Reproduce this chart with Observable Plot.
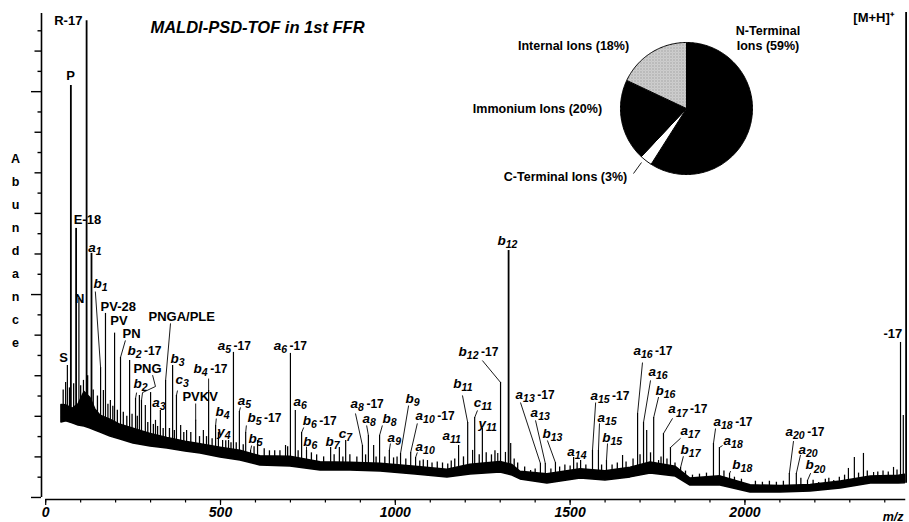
<!DOCTYPE html>
<html><head><meta charset="utf-8">
<script src="https://cdn.jsdelivr.net/npm/d3@7"></script>
<script src="https://cdn.jsdelivr.net/npm/@observablehq/plot@0.6"></script>
<style>
body{margin:0;background:#fff;}
#wrap{position:relative;width:909px;height:522px;overflow:hidden;background:#fff;}
#wrap svg{position:absolute;}
</style></head><body><div id="wrap"></div>
<script>
// ---------- data (m/z, abundance in axis units) ----------
const title = "MALDI-PSD-TOF in 1st FFR";
const yAxisLetters = "A\nb\nu\nn\nd\na\nn\nc\ne";
const xTicks = [0, 500, 1000, 1500, 2000];
const xMinorTicks = [0,100,200,300,400,500,600,700,800,900,1000,1100,1200,1300,1400,1500,1600,1700,1800,1900,2000,2100,2200,2300,2400];
const yTicksLong = [0, 10, 20];
const yTicksMid = [2, 4, 6, 8, 12, 14, 16, 18, 22];
const yTicksShort = [1, 3, 5, 7, 9, 11, 13, 15, 17, 19, 21, 23];

// dense core of the noisy baseline: [m/z, upper edge, lower edge]
const baseline = [
 [45,4.56,3.70],[59,4.54,3.75],[77,4.37,3.65],[94,4.59,3.55],[111,5.20,3.50],[128,4.90,3.40],
 [142,4.34,3.30],[157,4.03,3.20],[185,3.83,3.00],[214,3.58,2.86],[251,3.39,2.66],[300,3.13,2.51],
 [348,2.93,2.41],[400,2.75,2.27],[443,2.62,2.17],[500,2.45,1.97],[557,2.30,1.82],[614,2.03,1.58],
 [700,2.01,1.53],[786,1.74,1.33],[872,1.71,1.33],[958,1.66,1.28],[1058,1.52,1.13],[1149,1.37,0.99],
 [1215,1.61,1.13],[1301,1.75,1.23],[1335,1.60,1.08],[1358,1.27,0.89],[1435,1.14,0.69],[1530,1.39,0.94],
 [1601,1.29,0.84],[1673,1.47,0.99],[1730,1.73,1.18],[1802,1.51,1.03],[1844,0.93,0.59],[1930,1.04,0.59],
 [2016,0.60,0.25],[2102,0.56,0.25],[2188,0.61,0.30],[2274,0.79,0.44],[2360,1.03,0.69],[2440,1.07,0.69],
 [2458,1.12,0.70]
];

// resolved peaks: [m/z, abundance]
const peaks = [
 [57,5.67],[62,6.5],[72,20.3],[87,13.26],[95,9.8],[108,5.77],[117,23.5],[131,12.03],[157,6.4],[165,5.27],
 [171,9.07],[185,4.78],[197,8.1],[214,6.9],[240,6.75],[257,4.88],[268,5.03],[274,4.78],[285,4.53],[300,5.17],
 [314,3.8],[328,4.29],[343,5.77],[363,6.5],[374,5.03],[386,3.55],[403,3.3],[429,3.8],[451,3.3],[466,5.27],
 [486,3.55],[494,3.2],[506,2.81],[523,2.81],[537,7.15],[554,4.24],[572,3.2],[586,2.32],[606,2.81],[686,2.56],
 [700,7.1],[714,4.29],[732,3.2],[746,2.32],[815,2.46],[840,2.46],[858,2.81],[906,2.56],[923,3.06],[938,2.56],
 [955,3.06],[983,2.32],[1015,2.17],[1044,2.22],[1058,1.97],[1092,1.82],[1181,2.56],[1207,3.7],[1221,2.32],[1227,3.94],
 [1249,3.4],[1293,2.17],[1301,5.67],[1315,2.22],[1324,12.17],[1330,2.66],[1387,1.33],[1415,1.68],[1429,1.68],[1458,1.72],
 [1510,1.97],[1530,1.82],[1564,2.32],[1581,2.32],[1604,1.82],[1650,2.07],[1693,4.14],[1710,3.7],[1719,3.3],[1739,3.94],
 [1753,1.82],[1767,3.15],[1787,2.46],[1816,1.48],[1910,2.66],[1927,2.46],[1956,1.18],[2127,1.18],[2147,1.18],[2179,0.84],
 [2211,0.74],[2254,0.84],[2296,1.43],[2313,1.97],[2339,2.17],[2368,1.23],[2425,1.48],[2445,7.64],[2453,4.04],[2461,23.9]
];

// small noise spikes along the baseline: [m/z, abundance]
const noisePeaks = [
 [50,5.3],[68,5.4],[80,5.6],[100,5.5],[120,6.0],[136,5.3],[148,5.0],[178,4.6],[192,4.5],[205,4.3],[222,4.2],
 [232,4.0],[247,4.1],[262,4.0],[292,3.7],[308,3.6],[320,3.5],[336,3.4],[354,3.4],[368,3.3],[395,3.2],[415,3.2],
 [440,3.0],[460,3.0],[476,2.9],[515,2.8],[530,2.7],[545,2.7],[565,2.6],[596,2.5],[625,2.4],[640,2.3],[655,2.3],
 [670,2.3],[692,2.5],[722,2.3],[760,2.2],[775,2.1],[795,2.0],[825,2.1],[850,2.0],[870,2.1],[890,2.0],[915,2.1],
 [945,2.0],[970,2.0],[995,1.95],[1005,2.0],[1030,1.9],[1070,1.8],[1080,1.85],[1105,1.7],[1120,1.75],[1135,1.7],
 [1150,1.65],[1160,1.8],[1170,1.9],[1195,2.0],[1240,2.1],[1260,2.2],[1275,2.1],[1285,2.3],[1340,1.9],[1350,1.7],
 [1370,1.5],[1400,1.4],[1445,1.4],[1470,1.5],[1485,1.6],[1500,1.55],[1520,1.7],[1545,1.6],[1590,1.6],[1620,1.6],
 [1635,1.7],[1660,1.75],[1680,1.9],[1700,2.1],[1730,2.2],[1760,2.0],[1777,1.9],[1800,1.7],[1830,1.3],[1850,1.1],
 [1870,1.15],[1890,1.2],[1940,1.3],[1970,1.0],[1990,0.9],[2030,0.8],[2050,0.75],[2070,0.8],[2090,0.75],[2110,0.8],
 [2160,0.95],[2195,0.85],[2230,0.9],[2240,0.95],[2270,1.0],[2285,1.1],[2325,1.2],[2350,1.3],[2380,1.25],[2395,1.3],
 [2410,1.25],[2435,1.35]
];

// plain labels: [text, m/z, abundance, anchor]
const plainLabels = [
 ["R-17",105,23.5,"end"],["P",71,20.8,"middle"],["E-18",80,13.7,"start"],["N",97,9.8,"middle"],
 ["S",51,6.9,"middle"],["PV-28",157,9.41,"start"],["PV",185,8.72,"start"],["PN",220,8.08,"start"],
 ["PNG",251,6.36,"start"],["PNGA/PLE",294,8.92,"start"],["PVKV",391,4.98,"start"],
 ["-17",2396,8.08,"start"],["[M+H]\u207A",2310,23.66,"start"]
];

// fragment-ion labels: [ion, index, suffix, m/z of left edge, abundance]
const ionLabels = [
 ["a","1","",122,12.32],["b","1","",137,10.55],["b","2","-17",234,7.24],["b","2","",251,5.62],
 ["a","3","",305,4.68],["b","3","",357,6.85],["c","3","",371,5.82],["b","4","-17",423,6.36],
 ["b","4","",486,4.24],["y","4","",491,3.25],["a","5","-17",492,7.49],["a","5","",549,4.78],
 ["b","5","-17",577,3.94],["b","5","",580,2.91],["a","6","-17",652,7.49],["a","6","",709,4.72],
 ["b","6","-17",735,3.8],["b","6","",737,2.75],["b","7","",800,2.76],["c","7","",838,3.15],
 ["a","8","-17",872,4.63],["a","8","",906,3.89],["b","8","",963,3.89],["a","9","",978,2.96],
 ["b","9","",1029,4.88],["a","10","-17",1058,4.04],["a","10","",1058,2.51],["a","11","",1135,3.06],
 ["b","11","",1166,5.62],["c","11","",1224,4.68],["y","11","",1238,3.65],["b","12","-17",1181,7.2],
 ["b","12","",1292,12.67],["a","13","-17",1344,5.08],["a","13","",1387,4.19],["b","13","",1421,3.15],
 ["a","14","",1492,2.27],["a","15","-17",1558,5.03],["a","15","",1578,3.94],["b","15","",1592,2.96],
 ["a","16","-17",1681,7.24],["a","16","",1724,6.2],["b","16","",1744,5.28],["a","17","-17",1781,4.36],
 ["a","17","",1816,3.3],["b","17","",1816,2.38],["a","18","-17",1910,3.74],["a","18","",1939,2.82],
 ["b","18","",1964,1.64],["a","20","-17",2116,3.24],["a","20","",2153,2.36],["b","20","",2173,1.6]
];

// leader lines from labels to peak tops: [m/z1, y1, m/z2, y2]
const leaders = [
 [142,10.15,157,6.4],[228,7.74,214,6.9],[357,8.58,343,5.77],[260,5.17,257,4.88],[377,5.27,374,5.03],
 [429,4.63,429,3.8],[466,5.86,466,5.27],[488,3.89,486,3.55],[557,4.44,554,4.24],[574,3.55,572,3.2],
 [589,2.56,586,2.32],[738,3.45,732,3.2],[746,2.5,746,2.32],[886,4.14,906,2.56],[918,3.55,923,3.06],
 [963,3.55,955,3.06],[986,2.66,983,2.32],[1038,4.53,1015,2.17],[1063,3.65,1044,2.22],[1063,2.22,1058,1.97],
 [1192,5.03,1207,3.7],[1235,4.29,1227,3.94],[1249,6.75,1301,5.67],[1358,4.68,1415,1.68],[1401,3.8,1429,1.68],
 [1435,2.81,1458,1.72],[1573,4.68,1564,2.32],[1584,3.65,1581,2.32],[1607,2.66,1604,1.82],[1707,6.65,1693,4.14],
 [1730,5.77,1710,3.7],[1753,4.95,1739,3.94],[1793,3.9,1767,3.15],[1816,2.92,1787,2.46],[1824,2.03,1816,1.48],
 [1916,3.4,1910,2.66],[1936,2.56,1927,2.46],[1959,1.3,1956,1.18],[2139,2.78,2127,1.18],[2159,2.1,2147,1.18],
 [2188,1.2,2179,0.84]
];
const pngBracket = [[306,6.01],[314,5.47],[277,5.17],[274,4.78]];

// inset pie
const pieCategories = ["N-Terminal\nIons (59%)", "C-Terminal Ions (3%)", "Immonium Ions (20%)", "Internal Ions (18%)"];
const pieShares = [59, 3, 20, 18];
const pieFills = ["black", "white", "black", "url(#stipple)"];
const pieLabelPos = [[1.235,1.076],[-1.833,-1.015],[-2.258,0.015],[-1.712,0.955]];
const pieLeader = [[-0.803,-0.985,-0.682,-0.818]];

// ---------- drawing ----------
const font = "Liberation Sans, Arial, Helvetica, sans-serif";
const ns = "http://www.w3.org/2000/svg";

const band = baseline.map(([mz, hi, lo]) => ({mz, hi, lo}));
const bis = d3.bisector(d => d.mz).left;
function foot(m) {
  const i = Math.min(Math.max(bis(band, m), 1), band.length - 1);
  return Math.max(band[i - 1].lo, band[i].lo);
}
const peakRows = peaks.map(([mz, h]) => ({mz, h, foot: foot(mz)}));
const noiseRows = noisePeaks.map(([mz, h]) => ({mz, h, foot: foot(mz)}));
const tall = peakRows.filter(d => d.h > 10);
const small = peakRows.filter(d => d.h <= 10);

const lblStyle = {fontSize: 13, fontWeight: "bold", fill: "black"};
const noLabel = () => "";

const main = Plot.plot({
  width: 909, height: 522,
  marginLeft: 41, marginRight: 2, marginTop: 10, marginBottom: 23,
  x: {domain: [-12, 2465]},
  y: {domain: [-0.1, 24]},
  style: {fontFamily: font, background: "white", overflow: "visible", color: "black"},
  marks: [
    Plot.areaY(band, {x: "mz", y1: "lo", y2: "hi", fill: "black", stroke: "black", strokeWidth: 1.5, strokeLinejoin: "round"}),
    Plot.ruleX(noiseRows, {x: "mz", y1: "foot", y2: "h", stroke: "black", strokeWidth: 1.3}),
    Plot.ruleX(small, {x: "mz", y1: "foot", y2: "h", stroke: "black", strokeWidth: 1.2}),
    Plot.ruleX(tall, {x: "mz", y1: "foot", y2: "h", stroke: "black", strokeWidth: 1.8}),
    Plot.link(leaders, {x1: d => d[0], y1: d => d[1], x2: d => d[2], y2: d => d[3], stroke: "black", strokeWidth: 0.9}),
    Plot.line(pngBracket, {x: d => d[0], y: d => d[1], stroke: "black", strokeWidth: 0.9}),
    ...["start", "middle", "end"].map(a =>
      Plot.text(plainLabels.filter(d => d[3] === a), {x: d => d[1], y: d => d[2], text: d => d[0], textAnchor: a, ...lblStyle})),
    Plot.text(ionLabels, {x: d => d[3], y: d => d[4], text: d => [d[0], d[1], d[2]].join("|"), textAnchor: "start",
      ...lblStyle, fontSize: 13.5}),
    // axes
    Plot.ruleX([-12], {y1: 0, y2: 23.85, stroke: "black", strokeWidth: 1.6}),
    Plot.axisY(yTicksLong, {anchor: "left", tickSize: 10, tickFormat: noLabel, label: null, strokeWidth: 1.4}),
    Plot.axisY(yTicksMid, {anchor: "left", tickSize: 6.5, tickFormat: noLabel, label: null, strokeWidth: 1.4}),
    Plot.axisY(yTicksShort, {anchor: "left", tickSize: 3.5, tickFormat: noLabel, label: null, strokeWidth: 1.4}),
    Plot.ruleY([-0.1], {x1: 0, x2: 2460, stroke: "black", strokeWidth: 1.5}),
    Plot.axisX(xMinorTicks, {tickSize: 3.5, tickFormat: noLabel, label: null, strokeWidth: 1.2}),
    Plot.axisX(xTicks, {tickSize: 6, tickPadding: 2, label: null, strokeWidth: 1.2, tickFormat: d => String(d),
      fontSize: 14, fontStyle: "italic", fontWeight: "bold"}),
    Plot.text(["m/z"], {frameAnchor: "bottom-right", textAnchor: "end", lineAnchor: "middle", dx: -4, dy: 17,
      fontSize: 12.5, fontStyle: "italic", fontWeight: "bold"}),
    Plot.text([yAxisLetters], {frameAnchor: "left", textAnchor: "middle", lineAnchor: "middle", dx: -26, dy: -7.5,
      lineHeight: 1.84, fontSize: 12.5, fontWeight: "bold"}),
    Plot.text([title], {frameAnchor: "top-left", textAnchor: "middle", lineAnchor: "middle", dx: 216, dy: 17,
      fontSize: 16.5, fontWeight: "bold", fontStyle: "italic"})
  ]
});

// turn "ion|index|suffix" texts into italic ion letter, subscript index and upright suffix
main.querySelectorAll("text").forEach(t => {
  const s = t.textContent;
  if (!s.includes("|")) return;
  const [ion, idx, suf] = s.split("|");
  t.textContent = "";
  const mk = (txt, attrs) => {
    const sp = document.createElementNS(ns, "tspan");
    sp.textContent = txt;
    for (const k in attrs) sp.setAttribute(k, attrs[k]);
    t.appendChild(sp);
  };
  mk(ion, {"font-style": "italic", "font-size": 13.5});
  mk(idx, {"font-style": "italic", "font-size": 10.5, dy: 3.2});
  if (suf) mk(suf, {"font-style": "normal", "font-size": 12, dy: -3.2, dx: 2.5});
});

// pie inset
const arcs = d3.pie().sort(null).value(d => d)(pieShares);
function slicePts(s) {
  const n = Math.max(2, Math.ceil((s.endAngle - s.startAngle) / 0.02));
  const pts = [[0, 0]];
  for (let k = 0; k <= n; k++) {
    const a = s.startAngle + (s.endAngle - s.startAngle) * k / n;
    pts.push([Math.sin(a), Math.cos(a)]);
  }
  pts.push([0, 0]);
  return pts;
}
const pieSvg = Plot.plot({
  width: 350, height: 170, margin: 0,
  x: {domain: [-3.424, 1.879], axis: null},
  y: {domain: [-1.242, 1.333], axis: null},
  style: {fontFamily: font, background: "transparent", overflow: "visible", color: "black"},
  marks: [
    ...arcs.map((s, i) => Plot.line(slicePts(s), {x: d => d[0], y: d => d[1], fill: pieFills[i],
      stroke: "black", strokeWidth: 1, strokeLinejoin: "round"})),
    Plot.link(pieLeader, {x1: d => d[0], y1: d => d[1], x2: d => d[2], y2: d => d[3], stroke: "black", strokeWidth: 0.9}),
    Plot.text(pieCategories, {x: (d, i) => pieLabelPos[i][0], y: (d, i) => pieLabelPos[i][1], text: d => d,
      fontSize: 12.5, fontWeight: "bold", lineHeight: 1.25, fill: "black"})
  ]
});
const defs = document.createElementNS(ns, "defs");
defs.innerHTML = '<pattern id="stipple" width="3" height="3" patternUnits="userSpaceOnUse">' +
  '<rect width="3" height="3" fill="#d2d2d2"/><rect width="1" height="1" fill="#808080"/>' +
  '<rect x="1.5" y="1.5" width="1" height="1" fill="#a8a8a8"/></pattern>';
pieSvg.prepend(defs);

const wrap = document.getElementById("wrap");
main.style.left = "0px"; main.style.top = "0px";
pieSvg.style.left = "460px"; pieSvg.style.top = "20px";
wrap.appendChild(main);
wrap.appendChild(pieSvg);
</script>
</body></html>
